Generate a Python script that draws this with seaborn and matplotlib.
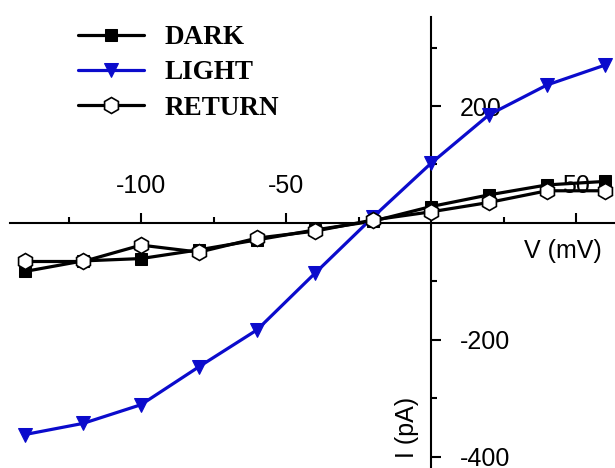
import matplotlib
matplotlib.use("Agg")
import matplotlib.pyplot as plt
from matplotlib.font_manager import FontProperties
import seaborn as sns
import pandas as pd

voltage = [-140, -120, -100, -80, -60, -40, -20, 0, 20, 40, 60]
dark = [-83, -65, -61, -46, -29, -12, 3, 28, 48, 65, 71]
light = [-362, -343, -311, -246, -183, -86, 10, 102, 185, 236, 270]
ret = [-66, -66, -38, -50, -26, -14, 5, 19, 35, 55, 55]
series_names = ["DARK", "LIGHT", "RETURN"]
x_ticks = [-100, -50, 50]
y_ticks = [200, -200, -400]

sns.set_style("white")
plt.rcParams["font.family"] = ["Liberation Sans", "DejaVu Sans"]
plt.rcParams["axes.unicode_minus"] = False
plt.rcParams["text.color"] = "black"
plt.rcParams["xtick.color"] = "black"
plt.rcParams["ytick.color"] = "black"

fig = plt.figure(figsize=(6.15, 4.68), dpi=100)
ax = fig.add_axes([10 / 615, 0, 605 / 615, (468 - 16.7) / 468])

blue = "#0b0bcc"
sns.lineplot(x=voltage, y=dark, ax=ax, sort=False, color="black", linewidth=2.3,
             marker="s", markersize=8, markeredgecolor="black", markerfacecolor="black",
             label=series_names[0], zorder=3)
sns.lineplot(x=voltage, y=light, ax=ax, sort=False, color=blue, linewidth=2.3,
             marker="v", markersize=10.5, markeredgecolor=blue, markerfacecolor=blue,
             label=series_names[1], zorder=4)
sns.lineplot(x=voltage, y=ret, ax=ax, sort=False, color="black", linewidth=2.3,
             marker="h", markersize=11.5, markeredgecolor="black", markerfacecolor="white",
             markeredgewidth=1.2, label=series_names[2], zorder=5)

ax.set_xlim(-145.2, 63.45)
ax.set_ylim(-419.3, 352.8)

for s in ["left", "bottom"]:
    ax.spines[s].set_visible(False)
ax.spines["top"].set_position(("data", 0))
ax.spines["right"].set_position(("data", 0))
for s in ["top", "right"]:
    ax.spines[s].set_linewidth(1.5)
    ax.spines[s].set_color("black")

ax.xaxis.set_ticks_position("top")
ax.yaxis.set_ticks_position("right")
ax.xaxis.set_label_position("top")
ax.yaxis.set_label_position("right")
ax.set_xticks(x_ticks)
ax.set_xticks([-125, -75, -25, 25], minor=True)
ax.set_yticks(y_ticks)
ax.set_yticks([300, 100, -100, -300], minor=True)
ax.set_xticklabels([str(v) for v in x_ticks])
ax.set_yticklabels([str(v) for v in y_ticks])
ax.tick_params(axis="both", which="major", direction="out", length=7, width=1.5,
               labelsize=18, colors="black", pad=11)
ax.tick_params(axis="both", which="minor", direction="out", length=4, width=1.5,
               colors="black")
ax.tick_params(axis="y", which="major", pad=14)
ax.set_xlabel("")
ax.set_ylabel("")

fig.text(563 / 615, 1 - 251 / 468, "V (mV)", fontsize=18, ha="center", va="center",
         color="black")
fig.text(407 / 615, 1 - 427 / 468, "I (pA)", fontsize=18, ha="center", va="center",
         rotation=90, color="black")

handles, labels = ax.get_legend_handles_labels()
leg = ax.legend(handles, labels, loc="upper left", bbox_to_anchor=(78 / 615, 1 - 25 / 468),
                bbox_transform=fig.transFigure, frameon=False,
                prop=FontProperties(family="Liberation Serif", weight="bold", size=19.5),
                handlelength=2.45, handletextpad=0.75, labelspacing=0.38, borderpad=0,
                borderaxespad=0)
for t in leg.get_texts():
    t.set_color("black")

fig.savefig("out.png", dpi=100)
